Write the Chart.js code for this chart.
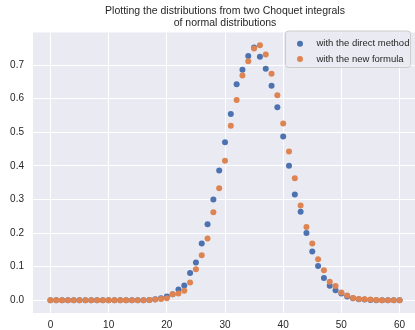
<!DOCTYPE html>
<html>
<head>
<meta charset="utf-8">
<script src="https://cdn.jsdelivr.net/npm/chart.js@4"></script>
<style>
  html, body { margin: 0; padding: 0; background: #ffffff; overflow: hidden; }
  #wrap { width: 421px; height: 330px; }
</style>
</head>
<body>
<div id="wrap"><canvas id="grafico" width="421" height="330"></canvas></div>
<script>
// data
const xValues = [
  0, 1, 2, 3, 4, 5, 6, 7, 8, 9, 10, 11, 12, 13, 14, 15, 16, 17, 18, 19, 20,
  21, 22, 23, 24, 25, 26, 27, 28, 29, 30, 31, 32, 33, 34, 35, 36, 37, 38, 39, 40,
  41, 42, 43, 44, 45, 46, 47, 48, 49, 50, 51, 52, 53, 54, 55, 56, 57, 58, 59, 60
];
const directMethod = [
  0, 0, 0, 0, 0, 0, 0, 0, 0, 0, 0, 0, 0, 0, 0, 0, 0, 0.001, 0.003, 0.006, 0.011,
  0.018, 0.032, 0.044, 0.081, 0.112, 0.169, 0.226, 0.300, 0.386, 0.470, 0.554, 0.643, 0.686, 0.727, 0.752, 0.725, 0.689, 0.638, 0.574, 0.487,
  0.400, 0.315, 0.263, 0.200, 0.145, 0.102, 0.066, 0.043, 0.030, 0.020, 0.011, 0.006, 0.003, 0.002, 0.001, 0, 0, 0, 0, 0
];
const newFormula = [
  0, 0, 0, 0, 0, 0, 0, 0, 0, 0, 0, 0, 0, 0, 0, 0, 0, 0.001, 0.002, 0.004, 0.006,
  0.018, 0.020, 0.028, 0.053, 0.092, 0.134, 0.184, 0.262, 0.333, 0.415, 0.519, 0.596, 0.669, 0.711, 0.749, 0.759, 0.731, 0.674, 0.610, 0.526,
  0.443, 0.363, 0.282, 0.218, 0.169, 0.122, 0.089, 0.055, 0.042, 0.023, 0.014, 0.007, 0.004, 0.003, 0.002, 0.001, 0, 0, 0, 0
];
const seriesNames = ['with the direct method', 'with the new formula'];
const xTicks = [0, 10, 20, 30, 40, 50, 60];
const yTicks = [0.0, 0.1, 0.2, 0.3, 0.4, 0.5, 0.6, 0.7];
const titleLines = ['Plotting the distributions from two Choquet integrals', 'of normal distributions'];

const azul = '#4c72b0';
const laranja = '#dd8452';
const texto = '#262626';
const fonte = '"Liberation Sans", Arial, sans-serif';

// fundo da area do grafico
const fundoPlugin = {
  id: 'fundo',
  beforeDraw(chart) {
    const a = chart.chartArea;
    const ctx = chart.ctx;
    ctx.save();
    ctx.fillStyle = '#eaeaf2';
    ctx.fillRect(a.left, a.top, a.right - a.left, a.bottom - a.top);
    ctx.restore();
  }
};

// legenda com moldura, como no matplotlib
const legendaPlugin = {
  id: 'legendaMoldura',
  afterDraw(chart) {
    const ctx = chart.ctx;
    const x = 285.5, y = 31, w = 125, h = 36.5;
    ctx.save();
    ctx.beginPath();
    ctx.roundRect(x, y, w, h, 3);
    ctx.fillStyle = 'rgba(234,234,242,0.8)';
    ctx.fill();
    ctx.strokeStyle = '#cccccc';
    ctx.lineWidth = 1;
    ctx.stroke();
    const cores = [azul, laranja];
    ctx.font = '9.5px ' + fonte;
    ctx.textBaseline = 'middle';
    seriesNames.forEach((nome, i) => {
      const cy = 43.7 + i * 15.3;
      ctx.beginPath();
      ctx.arc(300, cy, 3, 0, Math.PI * 2);
      ctx.fillStyle = cores[i];
      ctx.fill();
      ctx.fillStyle = texto;
      ctx.fillText(nome, 316.5, cy);
    });
    ctx.restore();
  }
};

const ctx = document.getElementById('grafico').getContext('2d');
new Chart(ctx, {
  type: 'scatter',
  data: {
    datasets: [
      {
        label: seriesNames[0],
        data: xValues.map((x, i) => ({ x: x, y: directMethod[i] })),
        backgroundColor: azul,
        borderWidth: 0,
        pointRadius: 3,
        order: 1
      },
      {
        label: seriesNames[1],
        data: xValues.map((x, i) => ({ x: x, y: newFormula[i] })),
        backgroundColor: laranja,
        borderWidth: 0,
        pointRadius: 3,
        order: 0
      }
    ]
  },
  options: {
    responsive: false,
    animation: false,
    devicePixelRatio: 1,
    layout: { padding: 0 },
    scales: {
      x: {
        type: 'linear',
        min: -3,
        max: 63,
        afterBuildTicks: s => { s.ticks = xTicks.map(v => ({ value: v })); },
        afterFit: s => { s.height = 17; },
        border: { display: false },
        grid: { color: '#ffffff', lineWidth: 1, drawTicks: false },
        ticks: { color: texto, font: { family: fonte, size: 10 }, padding: 6, maxRotation: 0 }
      },
      y: {
        type: 'linear',
        min: -0.038,
        max: 0.797,
        afterBuildTicks: s => { s.ticks = yTicks.map(v => ({ value: v })); },
        afterFit: s => { s.width = 33; },
        border: { display: false },
        grid: { color: '#ffffff', lineWidth: 1, drawTicks: false },
        ticks: { color: texto, font: { family: fonte, size: 10 }, padding: 9, callback: v => v.toFixed(1) }
      }
    },
    plugins: {
      legend: { display: false },
      tooltip: { enabled: false },
      title: {
        display: true,
        text: titleLines,
        fullSize: false,
        color: texto,
        font: { family: fonte, size: 10.5, weight: 'normal', lineHeight: 1.14 },
        padding: { top: 5, bottom: 3.5 }
      }
    }
  },
  plugins: [fundoPlugin, legendaPlugin]
});
</script>
</body>
</html>
